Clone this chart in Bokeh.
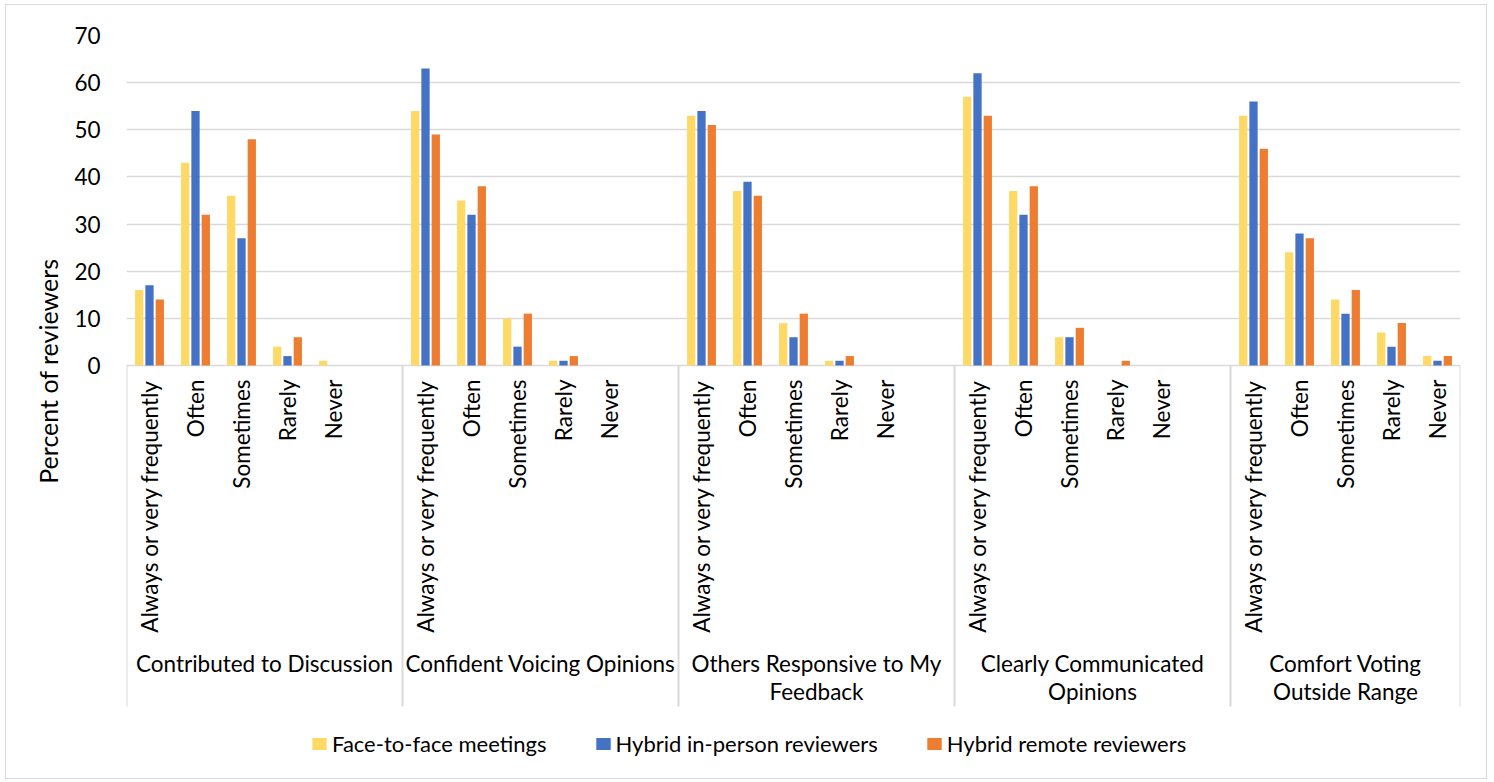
import math
from bokeh.plotting import figure
from bokeh.models import (ColumnDataSource, FactorRange, Range1d, FixedTicker,
                          Legend, LegendItem, Title)
from bokeh.transform import dodge
from bokeh.core.properties import value
from bokeh.embed import file_html
from bokeh.resources import INLINE

# ---------------- data ----------------
groups = ["Contributed to Discussion", "Confident Voicing Opinions",
          "Others Responsive to My Feedback", "Clearly Communicated Opinions",
          "Comfort Voting Outside Range"]
group_line1 = ["Contributed to Discussion", "Confident Voicing Opinions",
               "Others Responsive to My", "Clearly Communicated", "Comfort Voting"]
group_line2 = ["", "", "Feedback", "Opinions", "Outside Range"]
levels = ["Always or very frequently", "Often", "Sometimes", "Rarely", "Never"]
series_names = ["Face-to-face meetings", "Hybrid in-person reviewers", "Hybrid remote reviewers"]

face_to_face = [16, 43, 36, 4, 1,
                54, 35, 10, 1, 0,
                53, 37, 9, 1, 0,
                57, 37, 6, 0, 0,
                53, 24, 14, 7, 2]
hybrid_in_person = [17, 54, 27, 2, 0,
                    63, 32, 4, 1, 0,
                    54, 39, 6, 1, 0,
                    62, 32, 6, 0, 0,
                    56, 28, 11, 4, 1]
hybrid_remote = [14, 32, 48, 6, 0,
                 49, 38, 11, 2, 0,
                 51, 36, 11, 2, 0,
                 53, 38, 8, 1, 0,
                 46, 27, 16, 9, 2]
y_ticks = [0, 10, 20, 30, 40, 50, 60, 70]

colors = ["#FFD966", "#4472C4", "#ED7D31"]

# ---------------- layout constants ----------------
W, H = 1494, 782
FRAME_L, FRAME_R, FRAME_T, FRAME_B = 126, 1460, 35, 782
PX_PER_UNIT = 330.0 / 70.0          # 70 units over 330 px
y_top = 70
y_bottom = y_top - (FRAME_B - FRAME_T) / PX_PER_UNIT
ZERO_PX = FRAME_T + y_top * PX_PER_UNIT


def px_to_y(py):
    return -(py - ZERO_PX) / PX_PER_UNIT


FONT = "Lato"
fs = "22.5px"

factors = [(g, l) for g in groups for l in levels]
x_range = FactorRange(factors=factors, group_padding=1.0, factor_padding=0.0,
                      range_padding=0.0)

p = figure(width=W, height=H, x_range=x_range, y_range=Range1d(y_bottom, y_top),
           output_backend="svg", toolbar_location=None, x_axis_location=None,
           min_border_left=FRAME_L, min_border_right=W - FRAME_R,
           min_border_top=FRAME_T, min_border_bottom=H - FRAME_B)
p.outline_line_color = None
p.background_fill_color = "white"
p.border_fill_color = "white"
p.xgrid.visible = False
p.stylesheets = [
    ":host { position: relative; }",
    ":host::after { content: ''; position: absolute; left: 5px; top: 4px; "
    "width: 1482px; height: 775px; border: 1.5px solid #D9D9D9; "
    "pointer-events: none; z-index: 1000; box-sizing: border-box; }",
]

ax = p.yaxis[0]
ax.ticker = FixedTicker(ticks=y_ticks)
ax.axis_line_color = None
ax.major_tick_line_color = None
ax.minor_tick_line_color = None
ax.major_label_standoff = 20
ax.major_label_text_font = FONT
ax.major_label_text_font_size = fs
ax.major_label_text_color = "#000000"
p.ygrid.grid_line_color = "#D9D9D9"
p.ygrid.grid_line_width = 1.5

ytitle = Title(text="Percent of reviewers", align="right", offset=223,
               text_font=FONT, text_font_size="25px", text_font_style="normal",
               text_color="#000000", vertical_align="middle", standoff=16)
p.add_layout(ytitle, "left")

src = ColumnDataSource(dict(cat=factors, f2f=face_to_face,
                            hin=hybrid_in_person, hrem=hybrid_remote))
offsets = [-0.224, 0.0, 0.224]
cols = ["f2f", "hin", "hrem"]
renderers = []
for col, off, c in zip(cols, offsets, colors):
    r = p.vbar(x=dodge("cat", off, range=p.x_range), top=col, width=0.18,
               bottom=0, source=src, fill_color=c, line_color=None)
    renderers.append(r)

# category separators (group boundaries in synthetic coordinates)
n_lv = len(levels)
bounds = [g * (n_lv + 1) for g in range(len(groups))] + [len(groups) * (n_lv + 1) - 1]
sep_bottom = px_to_y(706)
p.segment(x0=bounds, y0=[0] * len(bounds), x1=bounds, y1=[sep_bottom] * len(bounds),
          line_color="#D9D9D9", line_width=2)

# inner category labels (rotated)
lab_src = ColumnDataSource(dict(x=factors, y=[px_to_y(379)] * len(factors),
                                t=[l for g in groups for l in levels]))
p.text(x="x", y="y", text="t", source=lab_src, angle=math.pi / 2,
       text_align="right", text_baseline="middle", text_font=value(FONT),
       text_font_size=value(fs), text_color="#000000")

# group labels, centred between the separators of each group
group_centers = [(bounds[i] + bounds[i + 1]) / 2 for i in range(len(groups))]
g1 = ColumnDataSource(dict(x=group_centers, y=[px_to_y(663)] * len(groups), t=group_line1))
p.text(x="x", y="y", text="t", source=g1, text_align="center",
       text_baseline="middle", text_font=value(FONT), text_font_size=value(fs),
       text_color="#000000")
g2 = ColumnDataSource(dict(x=group_centers, y=[px_to_y(691)] * len(groups), t=group_line2))
p.text(x="x", y="y", text="t", source=g2, text_align="center",
       text_baseline="middle", text_font=value(FONT), text_font_size=value(fs),
       text_color="#000000")

legend = Legend(items=[LegendItem(label=n, renderers=[r]) for n, r in zip(series_names, renderers)],
                orientation="horizontal", location=(184, 25),
                glyph_width=18, glyph_height=15, label_standoff=4, spacing=47,
                padding=0, margin=0, border_line_color=None,
                background_fill_alpha=0, label_text_font=FONT,
                label_text_font_size="22px", label_text_color="#000000")
p.add_layout(legend, "center")

open("out.html", "w").write(file_html(p, INLINE))
